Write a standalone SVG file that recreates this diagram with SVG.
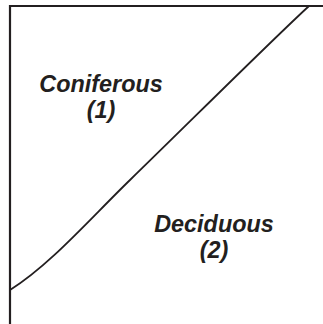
<svg xmlns="http://www.w3.org/2000/svg" width="323" height="324" viewBox="0 0 323 324">
<style>
.frame{fill:none;stroke:#231f20;stroke-width:2.2}
.curve{fill:none;stroke:#231f20;stroke-width:1.8}
.lbl{font-family:"Liberation Sans",Arial,sans-serif;font-size:23.4px;font-weight:bold;font-style:italic;fill:#231f20;text-anchor:middle}
</style>
<rect width="323" height="324" fill="#fff"/>
<g id="connectors">
<path class="frame" d="M10,324 V6 H323"/>
<path class="curve" d="M10,290 C50,265 90,218.8 130,180 C190,121.7 270,42 309,6"/>
</g>
<g id="coniferous">
<text class="lbl" x="101" y="91.7">Coniferous</text>
<text class="lbl" x="101" y="117.7">(1)</text>
</g>
<g id="deciduous">
<text class="lbl" x="214" y="231.7">Deciduous</text>
<text class="lbl" x="214" y="257.7">(2)</text>
</g>
</svg>
